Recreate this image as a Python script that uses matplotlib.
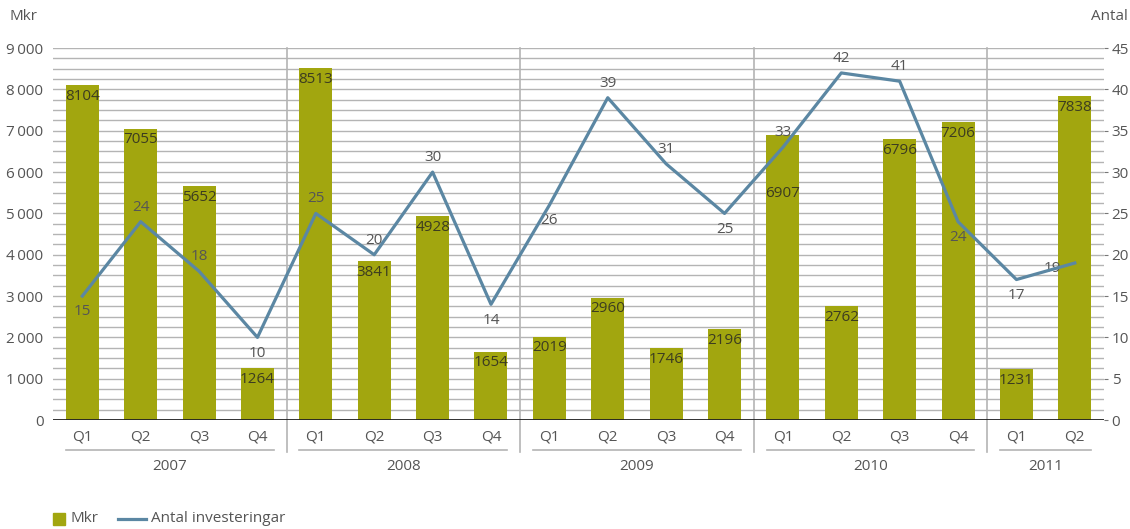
import matplotlib
matplotlib.use("Agg")
import matplotlib.pyplot as plt
from matplotlib.lines import Line2D
from matplotlib.patches import Rectangle

plt.rcParams['font.family'] = ['Open Sans', 'DejaVu Sans']

# quarterly data
years = ["2007", "2008", "2009", "2010", "2011"]
quarters = ["Q1", "Q2", "Q3", "Q4"] * 4 + ["Q1", "Q2"]
quarters_per_year = [4, 4, 4, 4, 2]
mkr = [8104, 7055, 5652, 1264,
       8513, 3841, 4928, 1654,
       2019, 2960, 1746, 2196,
       6907, 2762, 6796, 7206,
       1231, 7838]
antal = [15, 24, 18, 10,
         25, 20, 30, 14,
         26, 39, 31, 25,
         33, 42, 41, 24,
         17, 19]
# where each count label sits relative to its point
antal_pos = ["below", "above", "above", "below",
             "above", "above", "above", "below",
             "below", "above", "above", "below",
             "above", "above", "above", "below",
             "below", "left"]

BAR = "#a2a60f"
LINE = "#5b87a3"
TXT = "#555555"
GRID = "#b4b4b4"
FS = 11

fig = plt.figure(figsize=(11.3, 5.29), dpi=100)
ax = fig.add_axes([0.047, 0.206, 0.930, 0.703])
ax2 = ax.twinx()

x = list(range(len(mkr)))

# horizontal grid every 250 Mkr
for v in range(250, 9001, 250):
    ax.axhline(v, color=GRID, lw=1.0, zorder=0)
ax.axhline(0, color="#222222", lw=1.3, zorder=3)

bars = ax.bar(x, mkr, width=0.565, color=BAR, zorder=2)
for xi, v in zip(x, mkr):
    # 2010 Q1 label pushed down, clear of the line
    drop = 1250 if (xi == 12) else 90
    ax.text(xi, v - drop, f"{v}", ha="center", va="top", fontsize=FS,
            color="#3c3c20", zorder=5)

ax.set_xlim(-0.5, len(mkr) - 0.5)
ax.set_ylim(0, 9000)
ax.set_yticks(range(0, 9001, 1000))
ax.set_yticklabels([f"{v:,}".replace(",", "\u2009") for v in range(0, 9001, 1000)])
ax.tick_params(axis="y", length=0, labelsize=FS, labelcolor=TXT, pad=7)
ax.set_xticks(x)
ax.set_xticklabels(quarters)
ax.tick_params(axis="x", length=0, labelsize=FS, labelcolor=TXT, pad=7)
for s in ax.spines.values():
    s.set_visible(False)

# year separators and group lines
edges = [0]
for n in quarters_per_year:
    edges.append(edges[-1] + n)
for e in edges[1:-1]:
    ax.plot([e - 0.5, e - 0.5], [1, -0.085], transform=ax.get_xaxis_transform(),
            color=GRID, lw=1.2, clip_on=False, zorder=1)
for yr, a, b in zip(years, edges[:-1], edges[1:]):
    ax.plot([a - 0.28, b - 1 + 0.28], [-0.08, -0.08], transform=ax.get_xaxis_transform(),
            color=GRID, lw=1.2, clip_on=False)
    ax.text((a + b - 1) / 2, -0.125, yr, transform=ax.get_xaxis_transform(),
            ha="center", va="center", fontsize=FS, color=TXT)

ax2.plot(x, antal, color=LINE, lw=2.3, zorder=4)
ax2.set_ylim(0, 45)
ax2.set_yticks(range(0, 46, 5))
ax2.tick_params(axis="y", length=3, color="#777777", labelsize=FS, labelcolor=TXT, pad=2.5)
for s in ax2.spines.values():
    s.set_visible(False)
for xi, v, p in zip(x, antal, antal_pos):
    if p == "above":
        ax2.annotate(f"{v}", (xi, v), xytext=(0, 5), textcoords="offset points",
                     ha="center", va="bottom", fontsize=FS, color=TXT)
    elif p == "below":
        ax2.annotate(f"{v}", (xi, v), xytext=(0, -6), textcoords="offset points",
                     ha="center", va="top", fontsize=FS, color=TXT)
    else:
        ax2.annotate(f"{v}", (xi, v), xytext=(-16, -4), textcoords="offset points",
                     ha="center", va="center", fontsize=FS, color=TXT)

fig.text(0.008, 0.968, "Mkr", ha="left", va="center", fontsize=FS, color=TXT)
fig.text(0.998, 0.968, "Antal", ha="right", va="center", fontsize=FS, color=TXT)

# legend drawn by hand: square swatch and a longer line sample
ly = 1 - 519 / 529
fig.add_artist(Rectangle((53 / 1130, 1 - 525 / 529), 12 / 1130, 12 / 529,
                         transform=fig.transFigure, color=BAR))
fig.text(70 / 1130, ly, "Mkr", ha="left", va="center", fontsize=FS, color=TXT)
fig.add_artist(Line2D([118 / 1130, 146 / 1130], [ly, ly], transform=fig.transFigure,
                      color=LINE, lw=2.3))
fig.text(151 / 1130, ly, "Antal investeringar", ha="left", va="center",
         fontsize=FS, color=TXT)

fig.savefig("out.png", dpi=100)
